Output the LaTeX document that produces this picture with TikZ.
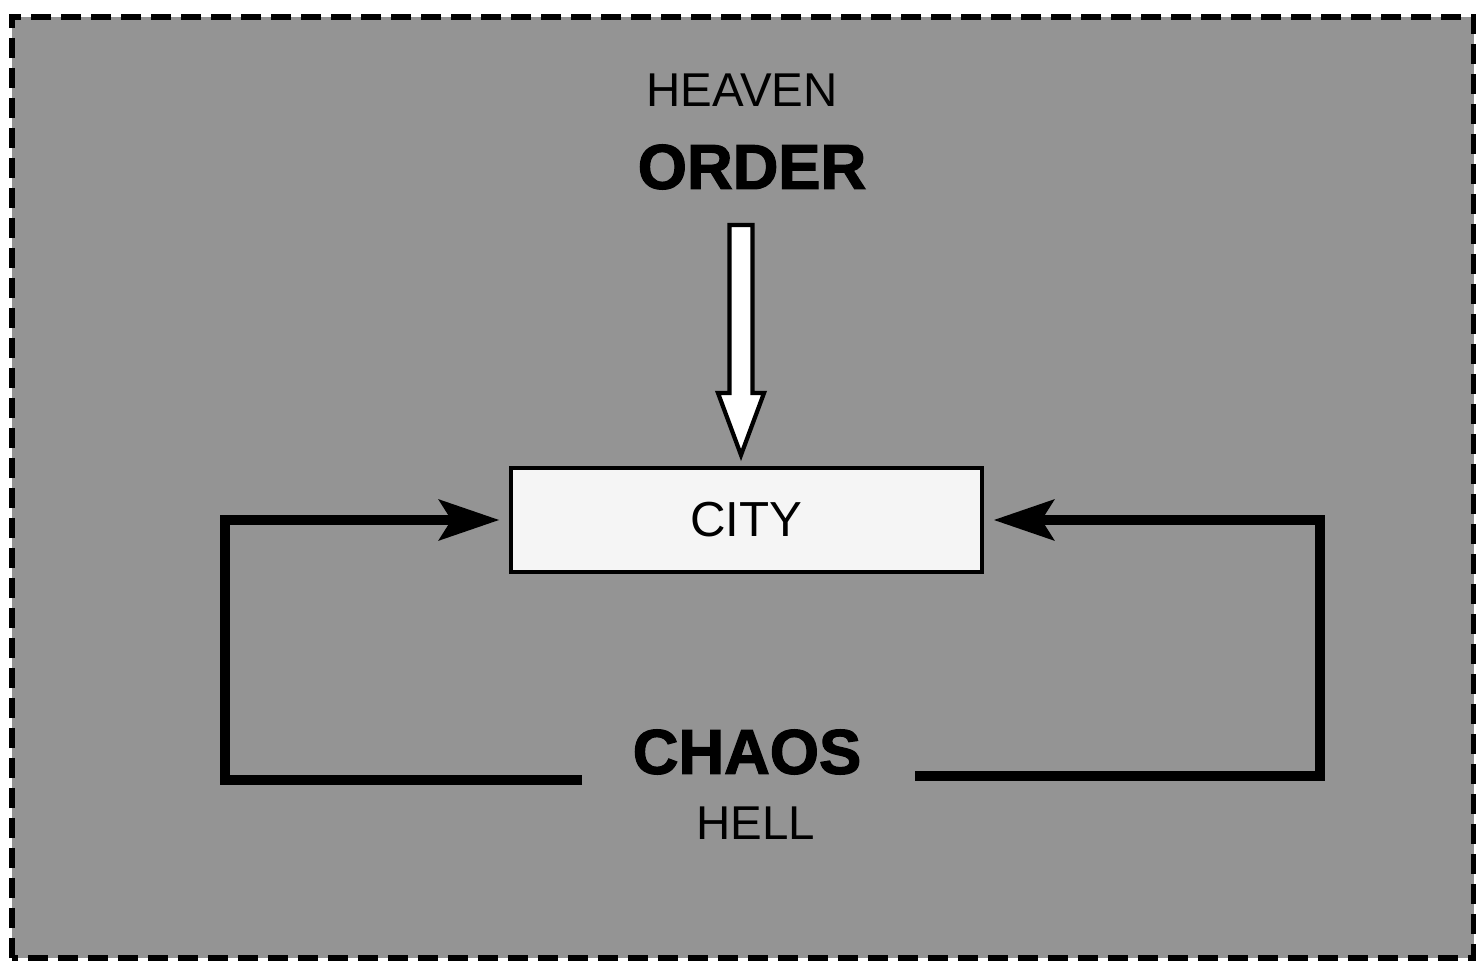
\documentclass[tikz,border=0pt]{standalone}
\usepackage{fontspec}
\setmainfont{Liberation Sans}
\newfontfamily\heavyfont[FakeBold=2]{Liberation Sans Bold}
\usetikzlibrary{arrows.meta,calc}
\begin{document}
\begin{tikzpicture}[>={Stealth[length=6mm,width=4mm,inset=1.2mm]}]
    \tikzset{
        frame/.style={draw, dash pattern=on 2mm off 1mm, line width=1.5pt, fill=black!42},
        place/.style={font=\fontsize{13.5}{16}\selectfont, inner sep=0pt},
        realm/.style={font=\heavyfont\fontsize{18}{21}\selectfont, inner sep=0pt},
        citybox/.style={rectangle, draw, line width=0.9pt, fill=black!4, minimum width=47.1mm, minimum height=10.4mm, font=\fontsize{14}{17}\selectfont},
        loop/.style={->, line width=2.9pt, line join=miter, shorten >=1mm},
        hollow/.style={draw, line width=1.2pt, fill=white, line join=miter}
    }
    \useasboundingbox (0,0) rectangle (14.76,9.64);
    \draw[frame] (0.12,0.06) rectangle (14.74,9.47);
    \node[place] (heaven) at (7.42,8.74) {HEAVEN};
    \node[realm] (order) at (7.52,7.97) {ORDER};
    \node[citybox] (city) at (7.465,4.44) {CITY};
    \node[realm] (chaos) at (7.47,2.12) {CHAOS};
    \node[place] (hell) at (7.56,1.41) {HELL};
    \coordinate (tail) at (7.41,7.39);
    \coordinate (tip) at (7.41,5.09);
    \coordinate (lfoot) at (5.82,1.84);
    \coordinate (rfoot) at (9.15,1.88);
    \draw[hollow] ($(tail)+(-0.115,0)$) -- ($(tail)+(0.115,0)$) -- ($(tip)+(0.115,0.62)$)
        -- ($(tip)+(0.23,0.62)$) -- (tip) -- ($(tip)+(-0.23,0.62)$) -- ($(tip)+(-0.115,0.62)$) -- cycle;
    \draw[loop] (lfoot) -- ++(-3.57,0) |- (city.west);
    \draw[loop] (rfoot) -- ++(4.05,0) |- (city.east);
\end{tikzpicture}
\end{document}
